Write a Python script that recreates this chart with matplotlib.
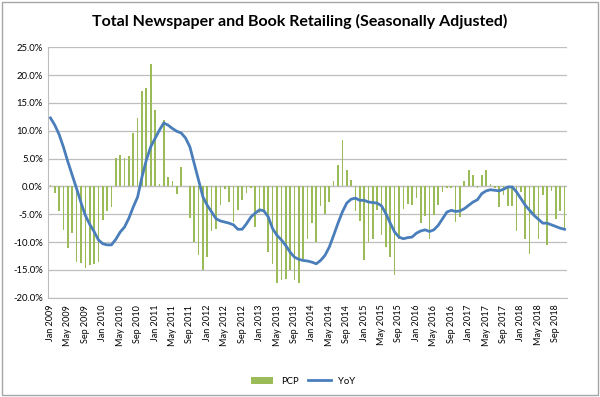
import matplotlib
matplotlib.use("Agg")
import matplotlib.pyplot as plt
import numpy as np
import pandas as pd
from matplotlib.patches import Rectangle
from matplotlib.ticker import FuncFormatter

plt.rcParams['font.family'] = ['Lato', 'DejaVu Sans']

# === Data (monthly, Jan 2009 - Nov 2018, % change) ===
months = pd.date_range("2009-01-01", periods=119, freq="MS")
month_labels = [m.strftime("%b %Y") for m in months]

pcp = [
    0.2, -1.2, -4.5, -7.9, -11.0, -8.3, -13.6, -13.7, -14.6, -14.1, -14.0, -13.6,
    -6.1, -4.4, -3.7, 5.1, 5.7, 5.1, 5.4, 9.6, 12.3, 17.1, 17.7, 22.0,
    13.8, 0.5, 12.0, 1.7, 0.9, -1.3, 3.4, 0.1, -5.6, -10.0, -12.3, -15.1,
    -12.7, -8.0, -7.6, -3.4, -0.4, -2.8, -6.4, -4.2, -2.5, -1.2, -0.3, -7.3,
    -4.8, -4.6, -11.8, -13.9, -17.4, -16.9, -16.6, -15.1, -16.9, -17.4, -13.0, -9.4,
    -6.6, -10.0, -3.5, -5.0, -2.8, 0.9, 3.9, 8.3, 2.9, 1.2, -4.4, -6.2,
    -13.3, -9.9, -9.4, -4.3, -8.8, -10.9, -12.6, -15.9, -9.5, -4.0, -3.1, -3.3,
    -2.0, -6.5, -5.4, -9.5, -5.2, -3.4, -1.0, -0.3, -0.2, -6.4, -5.5, 1.0,
    3.0, 2.1, -0.2, 2.0, 2.9, 0.4, -0.3, -3.7, -1.6, -3.5, -3.5, -8.0,
    -1.0, -9.5, -12.1, -5.0, -9.4, -1.5, -10.6, -0.8, -5.8, -4.5, -7.6,
]

yoy = [
    12.3, 11.0, 9.3, 7.0, 4.4, 2.0, -0.4, -2.9, -5.2, -6.8, -8.1, -9.6,
    -10.3, -10.5, -10.5, -9.5, -8.2, -7.3, -5.7, -3.7, -1.9, 1.7, 4.7, 7.1,
    8.6, 10.1, 11.4, 11.0, 10.4, 9.9, 9.6, 8.7, 7.1, 4.1, 1.1, -1.9,
    -3.4, -4.6, -5.8, -6.2, -6.4, -6.6, -6.9, -7.7, -7.7, -6.7, -5.5, -4.8,
    -4.2, -4.4, -5.5, -7.6, -8.8, -9.6, -10.6, -11.8, -12.7, -13.1, -13.3, -13.4,
    -13.6, -13.9, -13.3, -12.4, -10.9, -8.8, -6.6, -4.6, -3.0, -2.3, -2.1, -2.5,
    -2.5, -2.8, -2.9, -3.0, -3.5, -4.9, -6.6, -8.2, -9.1, -9.4, -9.2, -9.1,
    -8.4, -8.0, -7.8, -8.1, -7.8, -7.0, -5.8, -4.6, -4.3, -4.5, -4.4, -4.0,
    -3.4, -2.8, -2.4, -1.3, -0.8, -0.6, -0.7, -0.8, -0.5, -0.1, -0.1, -1.0,
    -2.2, -3.4, -4.3, -5.2, -5.9, -6.6, -6.6, -6.9, -7.2, -7.5, -7.7,
]

x = np.arange(len(months))

fig = plt.figure(figsize=(6.0, 3.97), dpi=100)
ax = fig.add_axes([0.0805, 0.25, 0.864, 0.631])

bars = ax.bar(x, pcp, width=0.38, color="#9BBB59", label="PCP", zorder=2)
line, = ax.plot(x, yoy, color="#4A7EBB", linewidth=2.0, label="YoY", zorder=3)

ax.set_xlim(-0.5, len(months) - 0.5)
ax.set_ylim(-20, 25)
ax.set_yticks(np.arange(-20, 26, 5))
ax.yaxis.set_major_formatter(FuncFormatter(lambda v, p: f"{v:.1f}%"))
ax.grid(axis="y", color="#BEBEBE", linewidth=0.9, zorder=0)
ax.axhline(0, color="#BEBEBE", linewidth=0.9, zorder=1)

ax.set_xticks(x[::4])
ax.set_xticklabels(month_labels[::4], rotation=90, fontsize=6.5)
ax.tick_params(axis="y", labelsize=6.8, length=0, pad=4)
ax.tick_params(axis="x", length=0, pad=5)

for s in ["top", "right"]:
    ax.spines[s].set_visible(False)
ax.spines["left"].set_color("#BEBEBE")
ax.spines["bottom"].set_color("#BEBEBE")

fig.suptitle("Total Newspaper and Book Retailing (Seasonally Adjusted)",
             x=0.5, y=0.965, fontsize=11.5, fontweight="bold")

fig.legend([bars, line], ["PCP", "YoY"], loc="center", bbox_to_anchor=(0.505, 0.04),
           ncol=2, frameon=False, fontsize=6.8, handlelength=2.4, handleheight=0.9,
           columnspacing=1.0)

fig.patches.append(Rectangle((0.004, 0.004), 0.992, 0.992, transform=fig.transFigure,
                             fill=False, edgecolor="#A6A6A6", linewidth=1.0))

fig.savefig("out.png", dpi=100)
